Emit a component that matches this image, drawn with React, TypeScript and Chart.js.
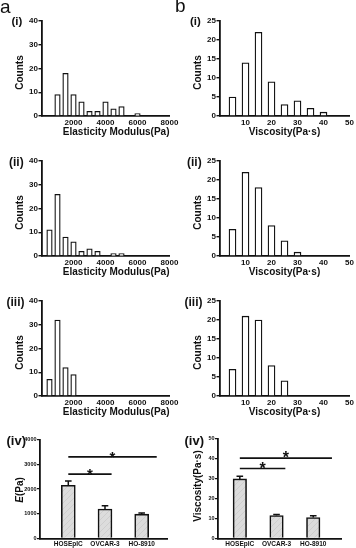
import React, { useEffect, useRef } from "react";
import { Chart, registerables } from "chart.js";

Chart.register(...registerables);

// ---------------- data ----------------
const elasticityBinsI = [1000, 1500, 2000, 2500, 3000, 3500, 4000, 4500, 5000, 6000];
const elasticityCountsI = [9, 18, 9, 6, 2, 2, 6, 3, 4, 1];
const elasticityBinsII = [500, 1000, 1500, 2000, 2500, 3000, 3500, 4500, 5000];
const elasticityCountsII = [11, 26, 8, 6, 2, 3, 2, 1, 1];
const elasticityBinsIII = [500, 1000, 1500, 2000];
const elasticityCountsIII = [7, 32, 12, 9];

const viscosityBinsI = [5, 10, 15, 20, 25, 30, 35, 40];
const viscosityCountsI = [5, 14, 22, 9, 3, 4, 2, 1];
const viscosityBinsII = [5, 10, 15, 20, 25, 30];
const viscosityCountsII = [7, 22, 18, 8, 4, 1];
const viscosityBinsIII = [5, 10, 15, 20, 25];
const viscosityCountsIII = [7, 21, 20, 8, 4];

const elasticityXTicks = [0, 2000, 4000, 6000, 8000];
const elasticityYTicks = [0, 10, 20, 30, 40];
const viscosityXTicks = [0, 10, 20, 30, 40, 50];
const viscosityYTicks = [0, 5, 10, 15, 20, 25];

const cellLines = ["HOSEpIC", "OVCAR-3", "HO-8910"];
const elasticityMean = [2150, 1190, 985];
const elasticityErr = [170, 130, 45];
const elasticityMeanTicks = [0, 1000, 2000, 3000, 4000];
const viscosityMean = [29.8, 11.5, 10.5];
const viscosityErr = [1.3, 0.5, 0.9];
const viscosityMeanTicks = [0, 10, 20, 30, 40, 50];

// significance brackets: [from category, to category, level]
const elasticitySig = [
  [0, 1.18, 2600],
  [0, 2.41, 3300],
];
const viscositySig = [
  [0, 1.24, 35],
  [0, 2.51, 40.2],
];

// ---------------- styling helpers ----------------
const FONT = '"Liberation Sans", Arial, Helvetica, sans-serif';
const INK = "#111111";

type Box = { left: number; top: number; width: number; height: number };
type Area = { L: number; T: number; R: number; B: number };

function fixedLayout(box: Box, area: Area) {
  return {
    padding: {
      left: 0,
      top: area.T - box.top,
      right: box.left + box.width - area.R,
      bottom: 0,
    },
    yWidth: area.L - box.left,
    xHeight: box.top + box.height - area.B,
  };
}

const yTitlePlugin = {
  id: "yTitle",
  afterDraw(chart: any, _args: any, opts: any) {
    if (!opts || !opts.parts) return;
    const { ctx, chartArea } = chart;
    ctx.save();
    const cy = (chartArea.top + chartArea.bottom) / 2 + (opts.dy || 0);
    ctx.translate(opts.x, cy);
    ctx.rotate(-Math.PI / 2);
    ctx.fillStyle = INK;
    ctx.textBaseline = "middle";
    ctx.textAlign = "left";
    const fonts = opts.parts.map(
      (p: any) => `${p.italic ? "italic " : ""}bold ${opts.size}px ${FONT}`
    );
    let total = 0;
    const widths = opts.parts.map((p: any, i: number) => {
      ctx.font = fonts[i];
      const w = ctx.measureText(p.text).width;
      total += w;
      return w;
    });
    let x = -total / 2;
    opts.parts.forEach((p: any, i: number) => {
      ctx.font = fonts[i];
      ctx.fillText(p.text, x, 0);
      x += widths[i];
    });
    ctx.restore();
  },
};

const statsPlugin = {
  id: "stats",
  afterDatasetsDraw(chart: any, _args: any, opts: any) {
    if (!opts || !opts.means) return;
    const { ctx } = chart;
    const xs = chart.scales.x;
    const ys = chart.scales.y;
    ctx.save();
    ctx.strokeStyle = INK;
    ctx.fillStyle = INK;
    ctx.lineWidth = 1.5;
    opts.means.forEach((m: number, i: number) => {
      const px = xs.getPixelForValue(i);
      const top = ys.getPixelForValue(m);
      const end = ys.getPixelForValue(m + opts.errs[i]);
      ctx.beginPath();
      ctx.moveTo(px, top);
      ctx.lineTo(px, end);
      ctx.moveTo(px - opts.cap, end);
      ctx.lineTo(px + opts.cap, end);
      ctx.stroke();
    });
    ctx.lineWidth = 1.6;
    opts.sig.forEach((s: number[]) => {
      const x1 = xs.getPixelForValue(s[0]);
      const x2 = xs.getPixelForValue(s[1]);
      const py = ys.getPixelForValue(s[2]);
      ctx.beginPath();
      ctx.moveTo(x1, py);
      ctx.lineTo(x2, py);
      ctx.stroke();
      ctx.font = `bold ${opts.starSize}px ${FONT}`;
      ctx.textAlign = "center";
      ctx.textBaseline = "alphabetic";
      ctx.fillText("*", (x1 + x2) / 2, py + opts.starDy);
    });
    ctx.restore();
  },
};

function makeHatch(): any {
  const c = document.createElement("canvas");
  c.width = 6;
  c.height = 6;
  const g = c.getContext("2d")!;
  g.fillStyle = "#dcdcdc";
  g.fillRect(0, 0, 6, 6);
  g.strokeStyle = "#c4c4c4";
  g.lineWidth = 0.6;
  g.beginPath();
  g.moveTo(0, 6);
  g.lineTo(6, 0);
  g.moveTo(-1, 1);
  g.lineTo(1, -1);
  g.moveTo(5, 7);
  g.lineTo(7, 5);
  g.stroke();
  return g.createPattern(c, "repeat");
}

type HistSpec = {
  box: Box;
  area: Area;
  bins: number[];
  counts: number[];
  xMax: number;
  xTicks: number[];
  yMax: number;
  yTicks: number[];
  bar: number;
  xTitle: string;
  titleAlign: "start" | "center" | "end";
  yTitleX: number;
};

function buildHistogram(canvas: HTMLCanvasElement, s: HistSpec) {
  const lay = fixedLayout(s.box, s.area);
  const tickFont = { family: FONT, size: 8, weight: "bold" as const };
  return new Chart(canvas, {
    type: "bar",
    data: {
      datasets: [
        {
          data: s.bins.map((b, i) => ({ x: b, y: s.counts[i] })) as any,
          backgroundColor: "#ffffff",
          borderColor: INK,
          borderWidth: 1.3,
          barThickness: s.bar,
        },
      ],
    },
    options: {
      responsive: false,
      animation: false,
      devicePixelRatio: 1,
      layout: { padding: lay.padding },
      plugins: {
        legend: { display: false },
        tooltip: { enabled: false },
        yTitle: {
          parts: [{ text: "Counts" }],
          size: 10,
          x: s.yTitleX - s.box.left,
          dy: 4,
        },
      } as any,
      scales: {
        x: {
          type: "linear",
          min: 0,
          max: s.xMax,
          offset: false,
          afterBuildTicks: (sc: any) => {
            sc.ticks = s.xTicks.map((v) => ({ value: v }));
          },
          ticks: {
            callback: (v: any) => (v === 0 ? "" : String(v)),
            font: tickFont,
            color: INK,
            padding: 1.5,
            maxRotation: 0,
            autoSkip: false,
          },
          grid: { display: false, drawTicks: false },
          border: { display: true, color: INK, width: 1.8 },
          title: {
            display: true,
            text: s.xTitle,
            align: s.titleAlign,
            color: INK,
            font: { family: FONT, size: 10, weight: "bold" },
            padding: 0,
          },
          afterFit: (sc: any) => {
            sc.height = lay.xHeight;
            sc.paddingLeft = 0;
            sc.paddingRight = 0;
          },
        },
        y: {
          type: "linear",
          min: 0,
          max: s.yMax,
          afterBuildTicks: (sc: any) => {
            sc.ticks = s.yTicks.map((v) => ({ value: v }));
          },
          ticks: {
            callback: (v: any) => String(v),
            font: tickFont,
            color: INK,
            padding: 0.5,
          },
          grid: {
            display: true,
            drawOnChartArea: false,
            drawTicks: true,
            tickLength: 3,
            color: INK,
            lineWidth: 1.4,
          },
          border: { display: true, color: INK, width: 1.8 },
          afterFit: (sc: any) => {
            sc.width = lay.yWidth;
            sc.paddingTop = 0;
            sc.paddingBottom = 0;
          },
        },
      },
    } as any,
    plugins: [yTitlePlugin],
  });
}

type MeanSpec = {
  box: Box;
  area: Area;
  means: number[];
  errs: number[];
  sig: number[][];
  yMax: number;
  yTicks: number[];
  xMin: number;
  xMax: number;
  bar: number;
  yTitleParts: { text: string; italic?: boolean }[];
  yTitleX: number;
  yTitleDy: number;
  starSize: number;
};

function buildMeans(canvas: HTMLCanvasElement, s: MeanSpec) {
  const lay = fixedLayout(s.box, s.area);
  return new Chart(canvas, {
    type: "bar",
    data: {
      datasets: [
        {
          data: s.means.map((m, i) => ({ x: i, y: m })) as any,
          backgroundColor: makeHatch(),
          borderColor: INK,
          borderWidth: 1.6,
          barThickness: s.bar,
        },
      ],
    },
    options: {
      responsive: false,
      animation: false,
      devicePixelRatio: 1,
      layout: { padding: lay.padding },
      plugins: {
        legend: { display: false },
        tooltip: { enabled: false },
        yTitle: {
          parts: s.yTitleParts,
          size: 10,
          x: s.yTitleX - s.box.left,
          dy: s.yTitleDy,
        },
        stats: {
          means: s.means,
          errs: s.errs,
          sig: s.sig,
          cap: 3.3,
          starSize: s.starSize,
          starDy: 5,
        },
      } as any,
      scales: {
        x: {
          type: "linear",
          min: s.xMin,
          max: s.xMax,
          offset: false,
          afterBuildTicks: (sc: any) => {
            sc.ticks = cellLines.map((_, i) => ({ value: i }));
          },
          ticks: {
            callback: (v: any) => cellLines[v] ?? "",
            font: { family: FONT, size: 6.5, weight: "bold" },
            color: INK,
            padding: 1.5,
            maxRotation: 0,
            autoSkip: false,
          },
          grid: { display: false, drawTicks: false },
          border: { display: true, color: INK, width: 1.8 },
          afterFit: (sc: any) => {
            sc.height = lay.xHeight;
            sc.paddingLeft = 0;
            sc.paddingRight = 0;
          },
        },
        y: {
          type: "linear",
          min: 0,
          max: s.yMax,
          afterBuildTicks: (sc: any) => {
            sc.ticks = s.yTicks.map((v) => ({ value: v }));
          },
          ticks: {
            callback: (v: any) => String(v),
            font: { family: FONT, size: 5.5, weight: "bold" },
            color: INK,
            padding: 0.5,
          },
          grid: {
            display: true,
            drawOnChartArea: false,
            drawTicks: true,
            tickLength: 2.5,
            color: INK,
            lineWidth: 1.3,
          },
          border: { display: true, color: INK, width: 1.8 },
          afterFit: (sc: any) => {
            sc.width = lay.yWidth;
            sc.paddingTop = 0;
            sc.paddingBottom = 0;
          },
        },
      },
    } as any,
    plugins: [yTitlePlugin, statsPlugin],
  });
}

function ChartCanvas({ box, make }: { box: Box; make: (c: HTMLCanvasElement) => Chart }) {
  const ref = useRef<HTMLCanvasElement>(null);
  useEffect(() => {
    const chart = make(ref.current!);
    return () => chart.destroy();
  }, []);
  return (
    <canvas
      ref={ref}
      width={box.width}
      height={box.height}
      style={{
        position: "absolute",
        left: box.left,
        top: box.top,
        width: box.width,
        height: box.height,
      }}
    />
  );
}

function Label({
  x,
  y,
  text,
  size,
  bold = true,
}: {
  x: number;
  y: number;
  text: string;
  size: number;
  bold?: boolean;
}) {
  return (
    <div
      style={{
        position: "absolute",
        left: x,
        top: y,
        transform: "translateY(-50%)",
        fontFamily: FONT,
        fontSize: size,
        fontWeight: bold ? "bold" : "normal",
        lineHeight: 1,
        whiteSpace: "nowrap",
        color: INK,
      }}
    >
      {text}
    </div>
  );
}

// rows of histogram panels: top / bottom of the plot area
const rowAreas = [
  { T: 21, B: 116 },
  { T: 161, B: 256 },
  { T: 301, B: 396 },
];

export default function App() {
  const elasticityData = [
    [elasticityBinsI, elasticityCountsI],
    [elasticityBinsII, elasticityCountsII],
    [elasticityBinsIII, elasticityCountsIII],
  ];
  const viscosityData = [
    [viscosityBinsI, viscosityCountsI],
    [viscosityBinsII, viscosityCountsII],
    [viscosityBinsIII, viscosityCountsIII],
  ];

  const hists: HistSpec[] = [];
  rowAreas.forEach((r, i) => {
    hists.push({
      box: { left: 0, top: r.T - 13, width: 182, height: r.B + 22 - (r.T - 13) },
      area: { L: 41.5, T: r.T, R: 169.5, B: r.B },
      bins: elasticityData[i][0],
      counts: elasticityData[i][1],
      xMax: 8000,
      xTicks: elasticityXTicks,
      yMax: 40,
      yTicks: elasticityYTicks,
      bar: 5.5,
      xTitle: "Elasticity Modulus(Pa)",
      titleAlign: "end",
      yTitleX: 20.3,
    });
    hists.push({
      box: { left: 178, top: r.T - 13, width: 178, height: r.B + 22 - (r.T - 13) },
      area: { L: 219.5, T: r.T, R: 349.5, B: r.B },
      bins: viscosityData[i][0],
      counts: viscosityData[i][1],
      xMax: 50,
      xTicks: viscosityXTicks,
      yMax: 25,
      yTicks: viscosityYTicks,
      bar: 7,
      xTitle: "Viscosity(Pa·s)",
      titleAlign: "center",
      yTitleX: 198.3,
    });
  });

  const meanA: MeanSpec = {
    box: { left: 0, top: 428, width: 178, height: 120 },
    area: { L: 39.5, T: 439.5, R: 167, B: 538.5 },
    means: elasticityMean,
    errs: elasticityErr,
    sig: elasticitySig,
    yMax: 4000,
    yTicks: elasticityMeanTicks,
    xMin: -0.785,
    xMax: 2.69,
    bar: 14,
    yTitleParts: [{ text: "E", italic: true }, { text: "(Pa)" }],
    yTitleX: 20.3,
    yTitleDy: 1,
    starSize: 15,
  };
  const meanB: MeanSpec = {
    box: { left: 178, top: 428, width: 178, height: 120 },
    area: { L: 217.5, T: 438.5, R: 341.5, B: 538.5 },
    means: viscosityMean,
    errs: viscosityErr,
    sig: viscositySig,
    yMax: 50,
    yTicks: viscosityMeanTicks,
    xMin: -0.608,
    xMax: 2.77,
    bar: 13.5,
    yTitleParts: [{ text: "Viscosity(Pa·s)" }],
    yTitleX: 198.3,
    yTitleDy: -2.5,
    starSize: 16,
  };

  return (
    <div
      style={{
        position: "absolute",
        left: 0,
        top: 0,
        width: 356,
        height: 548,
        background: "#ffffff",
        overflow: "hidden",
      }}
    >
      {hists.map((h, i) => (
        <ChartCanvas key={i} box={h.box} make={(c) => buildHistogram(c, h)} />
      ))}
      <ChartCanvas box={meanA.box} make={(c) => buildMeans(c, meanA)} />
      <ChartCanvas box={meanB.box} make={(c) => buildMeans(c, meanB)} />

      <Label x={0} y={6} text="a" size={19} bold={false} />
      <Label x={175} y={5} text="b" size={19} bold={false} />
      <Label x={11.5} y={21.5} text="(i)" size={11.5} />
      <Label x={190} y={21.5} text="(i)" size={11.5} />
      <Label x={9} y={162} text="(ii)" size={12} />
      <Label x={187} y={162} text="(ii)" size={12} />
      <Label x={6.5} y={302} text="(iii)" size={12} />
      <Label x={184.5} y={302} text="(iii)" size={12} />
      <Label x={6.5} y={440} text="(iv)" size={13} />
      <Label x={184.5} y={440} text="(iv)" size={13} />
    </div>
  );
}
